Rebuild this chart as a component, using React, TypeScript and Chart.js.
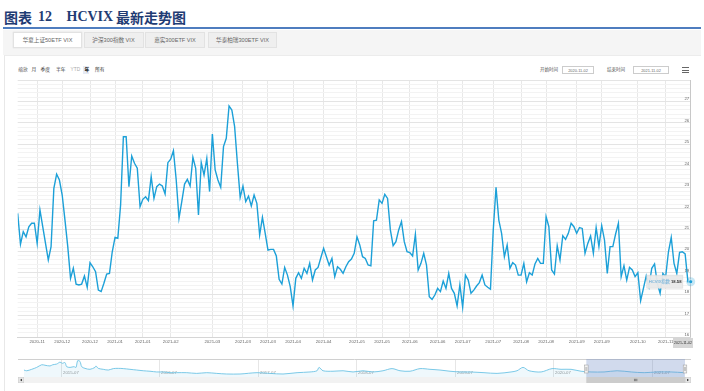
import React, { useEffect, useRef } from "react";
import { Chart, registerables } from "chart.js";
Chart.register(...registerables);

// ---------------- data ----------------
const seriesName = "HCVIX指数";
const hcvixValues: number[] = [
  21.77, 20.33, 20.92, 20.68, 21.15, 21.31, 21.31, 20.37, 21.93, 21.15,
  20.37, 19.6, 20.22, 22.94, 23.6, 23.33, 22.63, 21.46, 20.22, 18.74,
  19.21, 18.47, 18.43, 18.47, 18.85, 18.32, 19.47, 19.28, 19.05, 18.19,
  18.12, 18.51, 18.94, 18.97, 19.98, 20.65, 20.61, 22.16, 25.35, 25.35,
  23.02, 24.45, 24.11, 23.88, 22.09, 22.43, 22.55, 22.37, 23.49, 22.47,
  23.02, 23.14, 23.05, 22.68, 24.14, 24.3, 24.7, 23.33, 21.54, 22.32,
  23.14, 23.36, 23.05, 24.39, 23.88, 21.7, 24.14, 23.56, 24.34, 22.79,
  25.48, 23.8, 23.33, 22.99, 24.89, 25.28, 26.79, 26.6, 25.82, 24.11,
  22.52, 23.05, 22.32, 22.58, 22.12, 22.63, 22.24, 20.76, 21.59, 20.84,
  20.06, 20.09, 20.09, 19.78, 18.69, 18.47, 19.25, 18.89, 18.35, 17.45,
  18.74, 19.0, 18.74, 19.21, 18.97, 19.44, 18.66, 19.13, 19.25, 19.7,
  20.14, 19.75, 19.35, 19.67, 18.82, 19.28, 19.16,
  18.97, 19.28, 19.52, 19.64, 19.91, 20.68, 20.3, 19.75, 19.67, 19.36, 19.32,
  21.43, 21.46, 22.4, 22.24, 22.66, 22.47, 21.0, 20.26, 20.45, 21.0,
  21.39, 20.45, 19.98, 19.94, 19.78, 20.79, 19.13, 19.44, 19.91, 19.36,
  17.88, 17.76, 17.96, 18.27, 18.12, 18.61, 18.27, 18.97, 18.27, 18.04,
  17.45, 18.44, 17.39, 18.89, 18.66, 18.04, 18.19, 18.38, 18.54, 18.89,
  18.43, 18.32, 18.23, 21.0, 22.99, 21.46, 20.84, 19.75, 20.3, 19.21,
  19.47, 19.36, 18.89, 18.89, 19.44, 18.58, 19.0, 18.89, 19.41, 19.67,
  19.44, 19.44, 21.62, 21.15, 19.13, 18.94, 20.26, 19.6, 20.73, 20.56,
  20.84, 21.31, 21.15, 20.84, 21.11, 21.07, 19.91, 20.37, 20.72, 19.91,
  21.11, 20.22, 21.2, 20.53, 18.97, 20.22, 20.22, 20.81, 21.31, 18.82,
  19.33, 18.66, 19.25, 19.13, 18.82, 19.0, 17.7, 18.27, 18.85, 18.35,
  19.21, 19.41, 18.51, 18.04, 18.97, 18.82, 19.98, 20.65, 19.44, 18.97,
  19.95, 19.98, 19.88, 18.58, 18.58,
];
const xTickIdx = [7, 16, 26, 35, 45, 55, 70, 81, 90, 99, 110, 122, 131, 141, 151, 160, 171, 181, 190, 201, 210, 223, 233];
const xTickLabels = [
  "2020-11", "2020-12", "2020-12", "2021-01", "2021-01", "2021-02", "2021-03", "2021-03",
  "2021-03", "2021-04", "2021-04", "2021-05", "2021-05", "2021-06", "2021-06", "2021-07",
  "2021-07", "2021-08", "2021-08", "2021-09", "2021-09", "2021-10", "2021-11",
];
const yTickLabels = [16, 17, 18, 19, 20, 21, 22, 23, 24, 25, 26, 27];
const yMin = 16;
const yMax = 28;
const lastDateLabel = "2021-11-02";
const lastValueLabel = "18.58";

// navigator (months since 2015-01)
const navMonths = [
  1.54, 1.87, 2.48, 3.09, 3.7, 4.1, 4.71, 5.04, 5.53, 5.93, 6.21, 6.54, 6.74, 7.15, 7.63, 7.88, 8.08,
  8.36, 8.57, 8.97, 9.58, 10.19, 10.31, 10.59, 11.2, 11.81, 12.42, 13.03, 13.64, 14.45, 15.27,
  16.07, 16.89, 17.71, 18.51, 19.33, 20.14, 21.36, 22.58, 23.8, 25.02, 26.23, 27.85,
  29.92, 31.51, 33.09, 34.8, 36.38, 37.23, 37.48, 37.96, 39.18, 40.4, 41.62, 42.83, 44.05,
  45.27, 46.37, 47.34, 48.56, 49.78, 50.99, 52.21, 53.43, 54.65, 55.87, 57.57, 59.16, 60.86,
  61.59, 62.32, 63.05, 64.52, 65.86, 66.95, 68.17, 69.39, 70.61, 72.19, 73.79, 75.5, 77.08,
  78.67, 80.37, 81.93,
];
const navValues = [
  29, 26, 32, 40, 51, 49, 46, 51, 54, 62, 57, 60, 43, 40, 43, 40, 68,
  65, 43, 36, 32, 40, 46, 36, 32, 29, 35, 36, 35, 32, 29,
  26, 24, 21, 21, 18, 18, 18, 15, 18, 15, 12.5, 12.5,
  18, 15, 12.5, 18, 21, 26, 40, 26, 24, 26, 21, 26, 21,
  26, 35, 26, 24, 35, 32, 29, 24, 21, 21, 18, 15, 21,
  26, 40, 26, 21, 35, 32, 32, 24, 21, 21, 26, 21, 18,
  21, 21, 18,
];
const navMinMonth = 1.3;
const navMaxMonth = 82.05;
const navTickMonths = [6, 18, 30, 42, 54, 66, 78];
const navTickLabels = ["2015-07", "2016-07", "2017-07", "2018-07", "2019-07", "2020-07", "2021-07"];
const rangeStartMonth = 70.03;
const rangeEndMonth = 82.05;

const tabLabels = ["华夏上证50ETF VIX", "沪深300指数 VIX", "嘉实300ETF VIX", "华泰柏瑞300ETF VIX"];
const zoomLabel = "缩放";
const rangeButtons = ["月", "季度", "半年", "YTD", "年", "所有"];
const startLabel = "开始时间";
const endLabel = "结束时间";
const startDate = "2020-11-02";
const endDate = "2021-11-02";

// ---------------- style ----------------
const FONT = '"Liberation Sans", Arial, "Noto Sans CJK SC", sans-serif';
const LINE = "#1ca0d8";

const mainOverlay = {
  id: "mainOverlay",
  beforeDatasetsDraw(chart: any) {
    const { ctx, chartArea: a } = chart;
    const meta = chart.getDatasetMeta(0);
    const pt = meta.data[meta.data.length - 1];
    ctx.save();
    ctx.strokeStyle = "#c8c8c8";
    ctx.lineWidth = 1;
    ctx.beginPath();
    ctx.moveTo(Math.round(pt.x) - 0.5, a.top);
    ctx.lineTo(Math.round(pt.x) - 0.5, a.bottom);
    ctx.stroke();
    ctx.restore();
  },
  afterDraw(chart: any) {
    const { ctx, chartArea: a, scales } = chart;
    const ys = scales.y;
    ctx.save();
    ctx.font = `4.3px ${FONT}`;
    ctx.fillStyle = "#666";
    ctx.textAlign = "right";
    ctx.textBaseline = "alphabetic";
    yTickLabels.forEach((v) => {
      ctx.fillText(String(v), a.right - 1.5, ys.getPixelForValue(v) - 1);
    });
    const meta = chart.getDatasetMeta(0);
    const pt = meta.data[meta.data.length - 1];
    ctx.fillStyle = "rgba(28,160,216,0.25)";
    ctx.beginPath();
    ctx.arc(pt.x, pt.y, 4.5, 0, Math.PI * 2);
    ctx.fill();
    ctx.fillStyle = LINE;
    ctx.strokeStyle = "#fff";
    ctx.lineWidth = 0.6;
    ctx.beginPath();
    ctx.arc(pt.x, pt.y, 2, 0, Math.PI * 2);
    ctx.fill();
    ctx.stroke();
    const bx = pt.x - 44;
    const by = pt.y - 6.5;
    ctx.fillStyle = "rgba(233,233,233,0.95)";
    ctx.strokeStyle = "#d4d4d4";
    ctx.lineWidth = 0.5;
    ctx.beginPath();
    ctx.rect(bx, by, 36, 13);
    ctx.fill();
    ctx.stroke();
    ctx.textAlign = "left";
    ctx.textBaseline = "middle";
    ctx.font = `4.2px ${FONT}`;
    ctx.fillStyle = "#5aa6d6";
    ctx.fillText(seriesName, bx + 2, pt.y + 0.3);
    const w = ctx.measureText(seriesName + " ").width;
    ctx.font = `bold 4.2px ${FONT}`;
    ctx.fillStyle = "#333";
    ctx.fillText(lastValueLabel, bx + 2 + w, pt.y + 0.3);
    const lx = Math.min(pt.x - 7.7, a.right);
    ctx.fillStyle = "#d6d6d6";
    ctx.fillRect(lx - 10, a.bottom + 1, 20, 10);
    ctx.fillStyle = "#333";
    ctx.textAlign = "center";
    ctx.font = `3.8px ${FONT}`;
    ctx.fillText(lastDateLabel, lx, a.bottom + 6.2, 18);
    ctx.restore();
  },
};

const navOverlay = {
  id: "navOverlay",
  beforeDatasetsDraw(chart: any) {
    const { ctx, chartArea: a, scales } = chart;
    const xs = scales.x;
    ctx.save();
    ctx.strokeStyle = "#e6e6e6";
    ctx.lineWidth = 1;
    ctx.font = `4.3px ${FONT}`;
    ctx.fillStyle = "#999";
    ctx.textAlign = "left";
    ctx.textBaseline = "middle";
    navTickMonths.forEach((m, i) => {
      const x = Math.round(xs.getPixelForValue(m)) + 0.5;
      ctx.beginPath();
      ctx.moveTo(x, a.top);
      ctx.lineTo(x, a.bottom);
      ctx.stroke();
      ctx.fillText(navTickLabels[i], x + 1.5, a.bottom - 4);
    });
    ctx.restore();
  },
  afterDraw(chart: any) {
    const { ctx, chartArea: a, scales } = chart;
    const xs = scales.x;
    const x0 = xs.getPixelForValue(rangeStartMonth);
    const x1 = xs.getPixelForValue(rangeEndMonth);
    ctx.save();
    ctx.strokeStyle = "#d0d0d0";
    ctx.lineWidth = 1;
    ctx.beginPath();
    ctx.moveTo(18, a.top + 0.5);
    ctx.lineTo(691, a.top + 0.5);
    ctx.stroke();
    ctx.fillStyle = "rgba(102,133,194,0.3)";
    ctx.fillRect(x0, a.top, x1 - x0, a.bottom - a.top);
    const sy = a.bottom;
    const sh = 6;
    ctx.fillStyle = "#f2f2f2";
    ctx.fillRect(18, sy, 673, sh);
    ctx.fillStyle = "#cccccc";
    ctx.fillRect(x0, sy, x1 - x0, sh);
    const cx = (x0 + x1) / 2;
    ctx.strokeStyle = "#333";
    ctx.lineWidth = 0.5;
    [-1.2, 0, 1.2].forEach((d) => {
      ctx.beginPath();
      ctx.moveTo(cx + d, sy + 1.8);
      ctx.lineTo(cx + d, sy + 4.2);
      ctx.stroke();
    });
    [[18, -1], [685, 1]].forEach(([bx, dir]) => {
      ctx.fillStyle = "#e6e6e6";
      ctx.strokeStyle = "#cccccc";
      ctx.lineWidth = 0.5;
      ctx.fillRect(bx, sy, 6, sh);
      ctx.strokeRect(bx + 0.25, sy + 0.25, 5.5, sh - 0.5);
      ctx.fillStyle = "#333";
      ctx.beginPath();
      const mx = bx + 3;
      const my = sy + 3;
      ctx.moveTo(mx - dir * 1, my - 1.2);
      ctx.lineTo(mx + dir * 1, my);
      ctx.lineTo(mx - dir * 1, my + 1.2);
      ctx.closePath();
      ctx.fill();
    });
    [x0, x1].forEach((hx) => {
      ctx.fillStyle = "#f2f2f2";
      ctx.strokeStyle = "#999";
      ctx.lineWidth = 0.5;
      ctx.fillRect(hx - 1.8, a.top + 6, 3.6, 8);
      ctx.strokeRect(hx - 1.8, a.top + 6, 3.6, 8);
      ctx.beginPath();
      ctx.moveTo(hx - 0.5, a.top + 8);
      ctx.lineTo(hx - 0.5, a.top + 12);
      ctx.moveTo(hx + 0.5, a.top + 8);
      ctx.lineTo(hx + 0.5, a.top + 12);
      ctx.stroke();
    });
    ctx.restore();
  },
};

const abs = (o: React.CSSProperties): React.CSSProperties => ({ position: "absolute", ...o });

export default function App() {
  const mainRef = useRef<HTMLCanvasElement>(null);
  const navRef = useRef<HTMLCanvasElement>(null);

  useEffect(() => {
    Chart.defaults.font.family = FONT;
    const main = new Chart(mainRef.current as HTMLCanvasElement, {
      type: "line",
      data: {
        datasets: [
          {
            label: seriesName,
            data: hcvixValues.map((v, i) => ({ x: i, y: v })),
            borderColor: LINE,
            borderWidth: 1.4,
            pointRadius: 0,
            tension: 0,
            fill: false,
          },
        ],
      },
      options: {
        responsive: false,
        animation: false,
        events: [],
        layout: { padding: { left: 17.7, right: 13.3, top: 4, bottom: 0 } },
        plugins: { legend: { display: false }, tooltip: { enabled: false } },
        scales: {
          x: {
            type: "linear",
            min: 0,
            max: hcvixValues.length - 1,
            afterBuildTicks: (s: any) => {
              s.ticks = xTickIdx.map((v) => ({ value: v }));
            },
            afterFit: (s: any) => {
              s.height = 15;
            },
            ticks: {
              autoSkip: false,
              maxRotation: 0,
              padding: 2.5,
              font: { size: 4.3 },
              color: "#666",
              callback: (_v: any, i: number) => xTickLabels[i],
            },
            grid: { color: "#e8e8e8", drawTicks: false, lineWidth: 1 },
            border: { display: true, color: "#d6d6d6" },
          },
          y: {
            type: "linear",
            position: "right",
            min: yMin,
            max: yMax,
            afterBuildTicks: (s: any) => {
              const t: any[] = [];
              for (let k = yMin * 5; k <= yMax * 5; k++) t.push({ value: k / 5 });
              s.ticks = t;
            },
            afterFit: (s: any) => {
              s.width = 0;
            },
            ticks: { display: false },
            grid: {
              drawTicks: false,
              lineWidth: 1,
              color: (c: any) =>
                c.tick && Math.abs(c.tick.value - Math.round(c.tick.value)) < 1e-6 ? "#e4e4e4" : "#f3f3f3",
            },
            border: { display: false },
          },
        },
      },
      plugins: [mainOverlay],
    } as any);

    const nav = new Chart(navRef.current as HTMLCanvasElement, {
      type: "line",
      data: {
        datasets: [
          {
            data: navMonths.map((m, i) => ({ x: m, y: navValues[i] })),
            borderColor: "#6cc3e4",
            borderWidth: 0.9,
            backgroundColor: "rgba(28,160,216,0.07)",
            fill: "origin",
            pointRadius: 0,
            tension: 0.3,
          },
        ],
      },
      options: {
        responsive: false,
        animation: false,
        events: [],
        layout: { padding: { left: 22, right: 19, top: 7, bottom: 14 } },
        plugins: { legend: { display: false }, tooltip: { enabled: false } },
        scales: {
          x: { type: "linear", display: false, min: navMinMonth, max: navMaxMonth },
          y: { display: false, min: 0, max: 75 },
        },
      },
      plugins: [navOverlay],
    } as any);

    return () => {
      main.destroy();
      nav.destroy();
    };
  }, []);

  const tabBoxes = [
    [13, 69],
    [83.5, 60],
    [145, 60],
    [208, 69],
  ];
  const btnPos = [31.5, 40.5, 56, 70.5, 84.5, 95];

  return (
    <div style={abs({ position: "fixed", left: 0, top: 0, width: 704, height: 391, background: "#fff", overflow: "hidden", fontFamily: FONT })}>
      <div style={abs({ left: 4, top: 8, height: 18, lineHeight: "18px", fontSize: 14, fontWeight: 700, color: "#1f3c74", fontFamily: '"Noto Sans CJK SC", sans-serif' })}>图表</div>
      <div style={abs({ left: 38, top: 8, height: 18, lineHeight: "18px", fontSize: 14, fontWeight: 700, color: "#1f3c74", fontFamily: '"Liberation Serif", serif' })}>12</div>
      <div style={abs({ left: 66.5, top: 8, height: 18, lineHeight: "18px", fontSize: 14, fontWeight: 700, color: "#1f3c74", fontFamily: '"Liberation Serif", serif' })}>HCVIX</div>
      <div style={abs({ left: 116, top: 8, height: 18, lineHeight: "18px", fontSize: 14, fontWeight: 700, color: "#1f3c74", fontFamily: '"Noto Sans CJK SC", sans-serif' })}>最新走势图</div>
      <div style={abs({ left: 3, top: 26.5, width: 698, height: 2, background: "#4f7dbf" })} />

      <div style={abs({ left: 3, top: 29.5, width: 698, height: 25, background: "#f5f5f5" })} />
      {tabLabels.map((t, i) => (
        <div
          key={t}
          style={abs({
            left: tabBoxes[i][0],
            top: 31.7,
            width: tabBoxes[i][1],
            height: 16.6,
            boxSizing: "border-box",
            border: "0.6px solid #e2e2e2",
            background: i === 0 ? "#ffffff" : "#efefef",
            boxShadow: i === 0 ? "0 0 1px rgba(0,0,0,0.15)" : "none",
            fontSize: 5.6,
            lineHeight: "15.4px",
            textAlign: "center",
            color: "#666",
            whiteSpace: "nowrap",
          })}
        >
          {t}
        </div>
      ))}

      <div style={abs({ left: 4, top: 54.5, width: 697, height: 340, background: "#fff", borderLeft: "1px solid #e8e8e8", borderTop: "1px solid #ececec", boxSizing: "border-box" })} />

      <div style={abs({ left: 18.3, top: 67, fontSize: 4.8, lineHeight: "6px", color: "#555", whiteSpace: "nowrap" })}>{zoomLabel}</div>
      <div style={abs({ left: 83.3, top: 66.3, width: 6.2, height: 7.4, background: "#e6ebf5" })} />
      {rangeButtons.map((b, i) => (
        <div
          key={b + i}
          style={abs({
            left: btnPos[i],
            top: 67,
            fontSize: 4.8,
            lineHeight: "6px",
            color: b === "YTD" ? "#aaa" : b === "年" ? "#000" : "#333",
            fontWeight: b === "年" ? 700 : 400,
            whiteSpace: "nowrap",
          })}
        >
          {b}
        </div>
      ))}

      <div style={abs({ left: 540, top: 67, fontSize: 4.5, lineHeight: "6px", color: "#555", whiteSpace: "nowrap" })}>{startLabel}</div>
      <div style={abs({ left: 562, top: 66, width: 32, height: 8, boxSizing: "border-box", border: "0.6px solid #cccccc", fontSize: 3.9, lineHeight: "7px", textAlign: "center", color: "#666" })}>{startDate}</div>
      <div style={abs({ left: 607, top: 67, fontSize: 4.5, lineHeight: "6px", color: "#555", whiteSpace: "nowrap" })}>{endLabel}</div>
      <div style={abs({ left: 633, top: 66, width: 36, height: 8, boxSizing: "border-box", border: "0.6px solid #cccccc", fontSize: 3.9, lineHeight: "7px", textAlign: "center", color: "#666" })}>{endDate}</div>
      {[67.3, 69.6, 71.9].map((y) => (
        <div key={y} style={abs({ left: 682, top: y, width: 6.5, height: 0.9, background: "#666" })} />
      ))}

      <canvas ref={mainRef} width={704} height={276} style={abs({ left: 0, top: 76, width: 704, height: 276 })} />
      <canvas ref={navRef} width={704} height={39} style={abs({ left: 0, top: 352, width: 704, height: 39 })} />
    </div>
  );
}
